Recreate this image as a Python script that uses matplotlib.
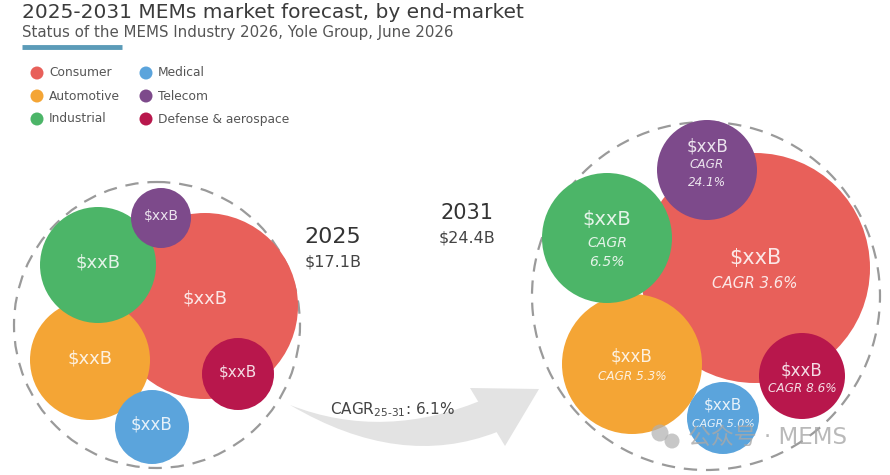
import numpy as np
import matplotlib.pyplot as plt
from matplotlib.patches import Circle, PathPatch, Polygon
from matplotlib.path import Path

plt.rcParams["font.family"] = ["DejaVu Sans", "Noto Sans CJK SC"]

# =============================================================================== #
# DADOS

segmentos = ["Consumer", "Automotive", "Industrial", "Medical", "Telecom", "Defense & aerospace"]
cores = ["#e8605a", "#f4a535", "#4cb568", "#5ba4dc", "#7d4a8b", "#b8174c"]
valores = ["$xxB", "$xxB", "$xxB", "$xxB", "$xxB", "$xxB"]
cagr_seg = [3.6, 5.3, 6.5, 5.0, 24.1, 8.6]

anos = ["2025", "2031"]
totais = [17.1, 24.4]
cagr_total = 6.1

# =============================================================================== #
# LAYOUT (pixels, origem no canto superior esquerdo)

# centro x, centro y, raio  -> mesma ordem de "segmentos"
bolhas_2025 = [(205, 306, 93), (90, 360, 60), (98, 265, 58),
               (152, 427, 37), (161, 218, 30), (238, 374, 36)]
bolhas_2031 = [(755, 268, 115), (632, 364, 70), (607, 238, 65),
               (723, 418, 36), (707, 170, 50), (802, 376, 43)]
ordem = [0, 1, 2, 4, 5, 3]
fonte_2025 = [13, 13, 13, 12, 10, 11]
fonte_2031 = [15, 12, 14, 11, 12, 12]
# deslocamento vertical dos textos 2031: ($xxB, linha 1, linha 2)
texto_2031 = [(-10, 15, None), (-7, 13, None), (-18, 5, 24),
              (-13, 6, None), (-24, -5, 12), (-6, 13, None)]

# =============================================================================== #
# FIGURA

fig = plt.figure(figsize=(8.9, 4.75), dpi=100)
ax = fig.add_axes([0, 0, 1, 1])
ax.set_xlim(0, 890)
ax.set_ylim(475, 0)
ax.axis("off")

ax.text(22, 12, "2025-2031 MEMs market forecast, by end-market", fontsize=14.5,
        color="#3b3b3b", va="center", ha="left")
ax.text(22, 33, "Status of the MEMS Industry 2026, Yole Group, June 2026", fontsize=10.8,
        color="#555555", va="center", ha="left")
ax.plot([22, 122], [47, 47], color="#5b9bb8", lw=3.5, solid_capstyle="butt")

# legenda
for i in range(len(segmentos)):
    col = i // 3
    lin = i % 3
    x0 = 37 + col * 109
    y0 = 73 + lin * 23
    ax.add_patch(Circle((x0, y0), 6.5, color=cores[i], lw=0))
    ax.text(x0 + 12, y0, segmentos[i], fontsize=8.8, color="#555555", va="center", ha="left")

# círculos tracejados
ax.add_patch(Circle((157, 325), 143, fill=False, ec="#9a9a9a", lw=1.6, ls=(0, (6, 4))))
ax.add_patch(Circle((706, 296), 174, fill=False, ec="#9a9a9a", lw=1.6, ls=(0, (6, 4))))

# bolhas 2025
for i in ordem:
    cx, cy, r = bolhas_2025[i]
    ax.add_patch(Circle((cx, cy), r, color=cores[i], lw=0))
for i in range(len(segmentos)):
    cx, cy, r = bolhas_2025[i]
    dy = -7 if i == 0 else -2
    ax.text(cx, cy + dy, valores[i], fontsize=fonte_2025[i], color="white", alpha=0.85,
            ha="center", va="center")

# bolhas 2031
for i in ordem:
    cx, cy, r = bolhas_2031[i]
    ax.add_patch(Circle((cx, cy), r, color=cores[i], lw=0))
for i in range(len(segmentos)):
    cx, cy, r = bolhas_2031[i]
    d0, d1, d2 = texto_2031[i]
    ax.text(cx, cy + d0, valores[i], fontsize=fonte_2031[i], color="white", alpha=0.85,
            ha="center", va="center")
    fs = fonte_2031[i] * 0.72
    if d2 is None:
        ax.text(cx, cy + d1, f"CAGR {cagr_seg[i]:.1f}%", fontsize=fs, style="italic",
                color="white", alpha=0.85, ha="center", va="center")
    else:
        ax.text(cx, cy + d1, "CAGR", fontsize=fs, style="italic",
                color="white", alpha=0.85, ha="center", va="center")
        ax.text(cx, cy + d2, f"{cagr_seg[i]:.1f}%", fontsize=fs, style="italic",
                color="white", alpha=0.85, ha="center", va="center")

# totais
pos_total = [(333, 237), (467, 213)]
tam_total = [16, 15]
for k in range(len(anos)):
    x0, y0 = pos_total[k]
    ax.text(x0, y0, anos[k], fontsize=tam_total[k], color="#333333", ha="center", va="center")
    ax.text(x0, y0 + 25, f"${totais[k]:.1f}B", fontsize=11.5, color="#444444",
            ha="center", va="center")

# seta curva
verts = [(290, 405), (385, 442), (487, 398), (497, 432), (400, 470), (290, 405), (290, 405)]
codes = [Path.MOVETO, Path.CURVE3, Path.CURVE3, Path.LINETO, Path.CURVE3, Path.CURVE3,
         Path.CLOSEPOLY]
ax.add_patch(PathPatch(Path(verts, codes), color="#e3e3e3", lw=0))
ax.add_patch(Polygon([(470, 388), (539, 389), (505, 446)], closed=True, color="#e3e3e3", lw=0))
ax.text(330, 410, r"CAGR$_{\mathregular{25\text{-}31}}$: " + f"{cagr_total:.1f}%", fontsize=11,
        color="#444444", ha="left", va="center")

# marca d'água
ax.add_patch(Circle((660, 433), 8.5, color="#b0b0b0", alpha=0.7, lw=0))
ax.add_patch(Circle((672, 441), 7.5, color="#b0b0b0", alpha=0.7, lw=0))
ax.text(688, 437, "公众号 · MEMS", fontsize=16.5, color="#a8a8a8", alpha=0.8,
        ha="left", va="center")

fig.savefig("out.png", dpi=100)
